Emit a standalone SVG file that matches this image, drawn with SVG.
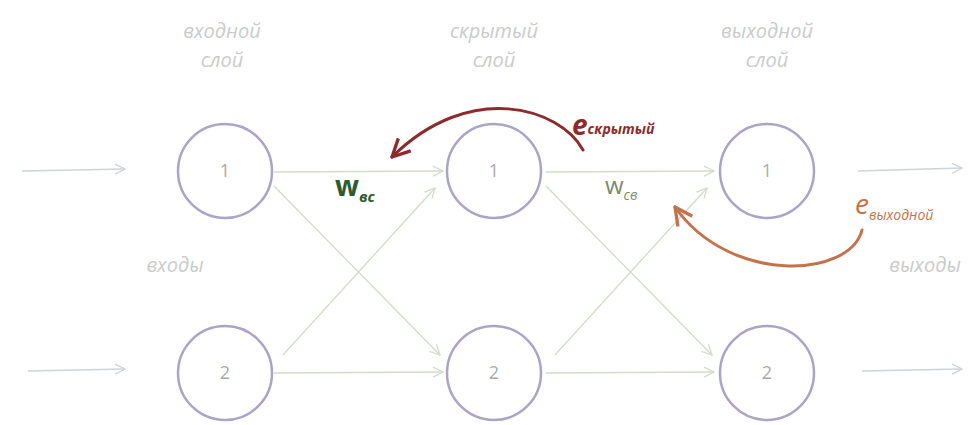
<svg xmlns="http://www.w3.org/2000/svg" width="975" height="425" viewBox="0 0 975 425">
<defs>
<style>
.node circle{fill:#fff;stroke:#aca4c8;stroke-width:2.5}
.node text{font-family:"Open Sans","DejaVu Sans",sans-serif;font-size:18px;fill:#aaa;text-anchor:middle}
.lbl{font-family:"Open Sans","DejaVu Sans",sans-serif;font-style:italic;font-size:20px;fill:#cbcbcb;text-anchor:middle}
.conn line{stroke:#d3dccb;stroke-width:1.3;fill:none}
.io line{stroke:#cfd3d6;stroke-width:1.3}
.err{fill:none;stroke-width:3;stroke-linecap:round}
</style>
<marker id="ah" viewBox="0 0 12 12" refX="11" refY="6" markerWidth="12" markerHeight="12" markerUnits="userSpaceOnUse" orient="auto">
<path d="M1,1 L11,6 L1,11" fill="none" stroke="#d3dccb" stroke-width="1.3"/>
</marker>
<marker id="ahg" viewBox="0 0 12 12" refX="11" refY="6" markerWidth="12" markerHeight="12" markerUnits="userSpaceOnUse" orient="auto">
<path d="M1,1 L11,6 L1,11" fill="none" stroke="#cfd3d6" stroke-width="1.3"/>
</marker>
<marker id="ahr" viewBox="0 0 20 20" refX="18" refY="10" markerWidth="22" markerHeight="22" markerUnits="userSpaceOnUse" orient="auto">
<path d="M2,2 L18,10 L2,18" fill="none" stroke="#8c2b2b" stroke-width="3" stroke-linejoin="round"/>
</marker>
<marker id="aho" viewBox="0 0 20 20" refX="18" refY="10" markerWidth="22" markerHeight="22" markerUnits="userSpaceOnUse" orient="auto">
<path d="M2,2 L18,10 L2,18" fill="none" stroke="#c4724c" stroke-width="3" stroke-linejoin="round"/>
</marker>
</defs>
<rect width="975" height="425" fill="#fff"/>

<g id="labels">
<text class="lbl" x="222" y="38">входной</text>
<text class="lbl" x="222" y="67">слой</text>
<text class="lbl" x="494" y="38">скрытый</text>
<text class="lbl" x="494" y="67">слой</text>
<text class="lbl" x="767" y="38">выходной</text>
<text class="lbl" x="767" y="67">слой</text>
<text class="lbl" x="175" y="272">входы</text>
<text class="lbl" x="925" y="272">выходы</text>
</g>

<g id="connectors">
<g class="io">
<line x1="22" y1="171" x2="125" y2="169" marker-end="url(#ahg)"/>
<line x1="28" y1="371" x2="125" y2="369" marker-end="url(#ahg)"/>
<line x1="858" y1="171" x2="962" y2="168" marker-end="url(#ahg)"/>
<line x1="862" y1="371" x2="962" y2="369" marker-end="url(#ahg)"/>
</g>
<g class="conn">
<line x1="274" y1="172" x2="443" y2="171" marker-end="url(#ah)"/>
<line x1="274" y1="186" x2="440" y2="355" marker-end="url(#ah)"/>
<line x1="283" y1="355" x2="435" y2="188" marker-end="url(#ah)"/>
<line x1="274" y1="373" x2="443" y2="372" marker-end="url(#ah)"/>
<line x1="546" y1="172" x2="714" y2="171" marker-end="url(#ah)"/>
<line x1="546" y1="186" x2="712" y2="355" marker-end="url(#ah)"/>
<line x1="555" y1="355" x2="707" y2="188" marker-end="url(#ah)"/>
<line x1="546" y1="373" x2="714" y2="372" marker-end="url(#ah)"/>
</g>
<path class="err" d="M583,150 C560,108 470,80 392,157" stroke="#8c2b2b" marker-end="url(#ahr)"/>
<path class="err" d="M862,230 C850,278 730,285 675,207" stroke="#c4724c" marker-end="url(#aho)"/>
</g>

<g id="node-in1" class="node"><circle cx="225" cy="171" r="47"/><text x="225" y="177">1</text></g>
<g id="node-in2" class="node"><circle cx="225" cy="373" r="47"/><text x="225" y="379">2</text></g>
<g id="node-h1" class="node"><circle cx="494" cy="171" r="47"/><text x="494" y="177">1</text></g>
<g id="node-h2" class="node"><circle cx="494" cy="373" r="47"/><text x="494" y="379">2</text></g>
<g id="node-o1" class="node"><circle cx="767" cy="171" r="47"/><text x="767" y="177">1</text></g>
<g id="node-o2" class="node"><circle cx="767" cy="373" r="47"/><text x="767" y="379">2</text></g>

<g id="weights" font-family="'Open Sans','DejaVu Sans',sans-serif">
<text x="335" y="196" font-size="28" font-weight="bold" fill="#2d5a33">w<tspan font-size="15" font-style="italic" dy="6">вс</tspan></text>
<text x="605" y="194" font-size="24" fill="#7f8a6a">w<tspan font-size="14" font-style="italic" dy="6">св</tspan></text>
<text x="572" y="135" font-size="28" font-weight="bold" font-style="italic" fill="#8c2b2b">e<tspan font-size="14" dy="-1">скрытый</tspan></text>
<text x="855" y="214" font-size="28" font-style="italic" fill="#c4724c">e<tspan font-size="14" dy="6">выходной</tspan></text>
</g>
</svg>
